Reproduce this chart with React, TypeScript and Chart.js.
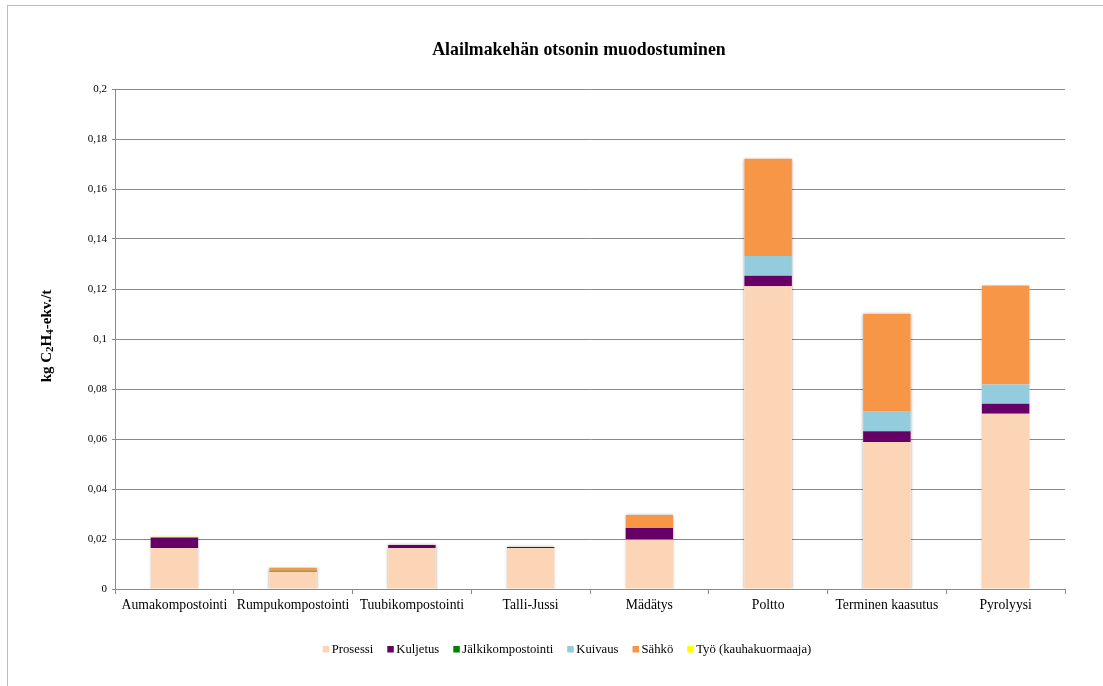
import { useEffect, useRef } from 'react';
import { Chart, registerables } from 'chart.js';

Chart.register(...registerables);

// Treatment methods along the x axis
const categories = [
  'Aumakompostointi',
  'Rumpukompostointi',
  'Tuubikompostointi',
  'Talli-Jussi',
  'Mädätys',
  'Poltto',
  'Terminen kaasutus',
  'Pyrolyysi',
];

// Contributions per stage, kg C2H4-ekv./t
const prosessi = [0.0164, 0.0069, 0.0164, 0.0164, 0.0197, 0.1211, 0.0588, 0.0701];
const kuljetus = [0.0042, 0, 0.0012, 0.0004, 0.0047, 0.0042, 0.0043, 0.004];
const jalkikompostointi = [0, 0.0004, 0, 0, 0, 0, 0, 0];
const kuivaus = [0, 0, 0, 0, 0, 0.0079, 0.0078, 0.0077];
const sahko = [0, 0.0012, 0, 0, 0.0052, 0.0389, 0.0391, 0.0396];
const tyo = [0.0003, 0, 0, 0, 0, 0, 0, 0];

const seriesNames = ['Prosessi', 'Kuljetus', 'Jälkikompostointi', 'Kuivaus', 'Sähkö', 'Työ (kauhakuormaaja)'];
const seriesValues = [prosessi, kuljetus, jalkikompostointi, kuivaus, sahko, tyo];
const seriesColors = ['#FBD5B5', '#660066', '#008000', '#93CDDD', '#F79646', '#FFFF00'];

const yMin = 0;
const yMax = 0.2;
const yStep = 0.02;

const chartTitle = 'Alailmakehän otsonin muodostuminen';
// y-axis title split into normal and subscript runs
const yTitleParts: [string, boolean][] = [
  ['kg C', false],
  ['2', true],
  ['H', false],
  ['4', true],
  ['-ekv./t', false],
];

const SERIF = '"Liberation Serif", "Times New Roman", Times, serif';
const GRID = '#8a8a8a';

const decorations = {
  id: 'decorations',
  beforeDatasetsDraw(chart: any) {
    // soft shadow behind every full stack
    const { ctx, scales, chartArea } = chart;
    const y = scales.y;
    const meta = chart.getDatasetMeta(0);
    ctx.save();
    ctx.beginPath();
    ctx.rect(chartArea.left, chartArea.top - 10, chartArea.right - chartArea.left, chartArea.bottom - chartArea.top + 10);
    ctx.clip();
    ctx.shadowColor = 'rgba(0,0,0,0.35)';
    ctx.shadowBlur = 3;
    ctx.fillStyle = '#ffffff';
    meta.data.forEach((bar: any, i: number) => {
      const total = seriesValues.reduce((s, arr) => s + arr[i], 0);
      const { x, width } = bar.getProps(['x', 'width'], true);
      const top = y.getPixelForValue(total);
      const bottom = y.getPixelForValue(0);
      ctx.fillRect(x - width / 2, top, width, bottom - top);
    });
    ctx.restore();
  },
  afterDraw(chart: any) {
    const { ctx } = chart;
    ctx.save();

    // title
    ctx.fillStyle = '#000';
    ctx.font = `bold 17.8px ${SERIF}`;
    ctx.textAlign = 'center';
    ctx.textBaseline = 'alphabetic';
    ctx.fillText(chartTitle, 579, 55);

    // rotated y-axis title with subscripts
    const mainFont = `bold 15px ${SERIF}`;
    const subFont = `bold 11px ${SERIF}`;
    let total = 0;
    const widths = yTitleParts.map(([t, sub]) => {
      ctx.font = sub ? subFont : mainFont;
      const w = ctx.measureText(t).width;
      total += w;
      return w;
    });
    ctx.save();
    ctx.translate(51, 336);
    ctx.rotate(-Math.PI / 2);
    ctx.textAlign = 'left';
    let cx = -total / 2;
    yTitleParts.forEach(([t, sub], i) => {
      ctx.font = sub ? subFont : mainFont;
      ctx.fillText(t, cx, sub ? 2 : 0);
      cx += widths[i];
    });
    ctx.restore();

    // legend
    ctx.font = `12.7px ${SERIF}`;
    ctx.textBaseline = 'middle';
    ctx.textAlign = 'left';
    let lx = 322.7;
    const ly = 649;
    seriesNames.forEach((name, i) => {
      ctx.fillStyle = seriesColors[i];
      ctx.fillRect(lx, ly - 3, 6.5, 6.5);
      ctx.fillStyle = '#000';
      ctx.fillText(name, lx + 9, ly + 1);
      lx += 9 + ctx.measureText(name).width + 14;
    });

    ctx.restore();
  },
};

export default function App() {
  const canvasRef = useRef<HTMLCanvasElement | null>(null);

  useEffect(() => {
    if (!canvasRef.current) return;
    const chart = new Chart(canvasRef.current, {
      type: 'bar',
      data: {
        labels: categories,
        datasets: seriesNames.map((name, i) => ({
          label: name,
          data: seriesValues[i],
          backgroundColor: seriesColors[i],
          borderWidth: 0,
          barPercentage: 0.4,
          categoryPercentage: 1,
        })),
      },
      options: {
        animation: false,
        responsive: true,
        maintainAspectRatio: false,
        layout: { padding: { left: 0, right: 38, top: 89, bottom: 0 } },
        plugins: {
          legend: { display: false },
          title: { display: false },
          tooltip: { enabled: false },
        },
        scales: {
          x: {
            stacked: true,
            afterFit(scale: any) {
              scale.height = 97;
            },
            grid: {
              offset: true,
              drawOnChartArea: false,
              drawTicks: true,
              tickLength: 5,
              color: GRID,
            },
            border: { display: true, color: GRID },
            ticks: {
              color: '#000',
              padding: 3,
              maxRotation: 0,
              autoSkip: false,
              font: { family: SERIF, size: 13.7 },
            },
          },
          y: {
            stacked: true,
            min: yMin,
            max: yMax,
            afterFit(scale: any) {
              scale.width = 115;
            },
            grid: {
              color: GRID,
              drawTicks: true,
              tickLength: 3,
            },
            border: { display: true, color: GRID },
            ticks: {
              stepSize: yStep,
              color: '#000',
              padding: 5,
              font: { family: SERIF, size: 11 },
              callback: (v: any) => Number(Number(v).toFixed(2)).toString().replace('.', ','),
            },
          },
        },
      },
      plugins: [decorations],
    });
    return () => chart.destroy();
  }, []);

  return (
    <div style={{ position: 'fixed', left: 0, top: 0, width: 1103, height: 686, background: '#fff' }}>
      <div
        style={{
          position: 'absolute',
          left: 7,
          top: 5,
          width: 1200,
          height: 800,
          borderTop: '1px solid #bdbdbd',
          borderLeft: '1px solid #bdbdbd',
        }}
      />
      <canvas ref={canvasRef} style={{ position: 'absolute', left: 0, top: 0 }} />
    </div>
  );
}
